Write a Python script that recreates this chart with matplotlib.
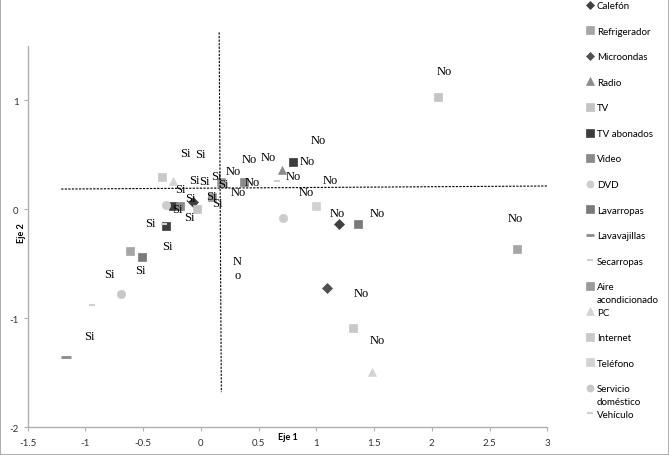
import matplotlib
matplotlib.use("Agg")
import matplotlib.pyplot as plt
from matplotlib.patches import Rectangle

# series (Si / No points of each variable)
series_names = ["Calefón", "Refrigerador", "Microondas", "Radio", "TV", "TV abonados",
                "Video", "DVD", "Lavarropas", "Lavavajillas", "Secarropas",
                "Aire acondicionado", "PC", "Internet", "Teléfono",
                "Servicio doméstico", "Vehículo"]
series_x = [[1.198, -0.065], [2.74, -0.614], [1.094], [0.706], [2.056, -0.03],
            [0.796, -0.302, -0.24], [0.374, -0.18], [0.713, -0.302], [1.362, -0.51],
            [-1.168], [-0.942, 0.66], [0.095, 0.175], [1.483, -0.24], [1.313, -0.335],
            [0.998], [-0.69], [-0.32]]
series_y = [[-0.135, 0.06], [-0.367, -0.385], [-0.725], [0.358], [1.028, 0.0],
            [0.431, -0.156, 0.03], [0.248, 0.03], [-0.083, 0.037], [-0.135, -0.44],
            [-1.358], [-0.88, 0.257], [0.11, 0.248], [-1.495, 0.257], [-1.092, 0.294],
            [0.028], [-0.78], [-0.14]]

# point labels
no_x = [2.108, 2.723, 1.181, 1.528, 0.911, 1.389, 1.528, 1.016, 0.920, 0.799,
        1.120, 0.418, 0.582, 0.279, 0.444, 0.322]
no_y = [1.266, -0.083, -0.037, -0.037, 0.156, -0.771, -1.202, 0.633, 0.440, 0.303,
        0.266, 0.459, 0.477, 0.349, 0.248, 0.156]
no_wrapped = (0.314, -0.541)
si_x = [-0.136, -0.006, -0.180, -0.057, 0.029, 0.132, 0.192, 0.088, 0.140, -0.094,
        -0.206, -0.102, -0.440, -0.293, -0.527, -0.795, -0.968]
si_y = [0.514, 0.505, 0.183, 0.266, 0.257, 0.303, 0.229, 0.119, 0.055, 0.101,
        0.0, -0.073, -0.128, -0.339, -0.560, -0.596, -1.165]

# cross lines
vline_x = [0.158, 0.177]
vline_y = [1.62, -1.68]
hline_x = [-1.21, 3.0]
hline_y = [0.183, 0.211]

x_ticks = [-1.5, -1, -0.5, 0, 0.5, 1, 1.5, 2, 2.5, 3]
y_ticks = [-2, -1, 0, 1]

styles = [
    dict(marker="D", color="#404040", ms=5),
    dict(marker="s", color="#a6a6a6", ms=6),
    dict(marker="D", color="#505050", ms=5),
    dict(marker="^", color="#8c8c8c", ms=6),
    dict(marker="s", color="#c4c4c4", ms=6),
    dict(marker="s", color="#3c3c3c", ms=6),
    dict(marker="s", color="#8a8a8a", ms=6),
    dict(marker="o", color="#cdcdcd", ms=6),
    dict(marker="s", color="#7a7a7a", ms=6),
    dict(marker="_", color="#8c8c8c", ms=7, mew=2),
    dict(marker="_", color="#d0d0d0", ms=5, mew=1.5),
    dict(marker="s", color="#9a9a9a", ms=6),
    dict(marker="^", color="#d4d4d4", ms=6),
    dict(marker="s", color="#c8c8c8", ms=6),
    dict(marker="s", color="#d2d2d2", ms=6),
    dict(marker="o", color="#c8c8c8", ms=6),
    dict(marker="_", color="#d0d0d0", ms=5, mew=1.5),
]

fig = plt.figure(figsize=(6.69, 4.56), dpi=100)
ax = fig.add_axes([0.0414, 0.0614, 0.7767, 0.8366])

handles = []
for name, xs, ys, st in zip(series_names, series_x, series_y, styles):
    h, = ax.plot(xs, ys, linestyle="none", marker=st["marker"], color=st["color"],
                 markersize=st["ms"], markeredgewidth=st.get("mew", 0.5), label=name)
    handles.append(h)

ax.plot(vline_x, vline_y, color="black", lw=0.8, ls=(0, (2, 1.2)), clip_on=False)
ax.plot(hline_x, hline_y, color="black", lw=0.8, ls=(0, (2, 1.2)), clip_on=False)

for x, y in zip(no_x, no_y):
    ax.text(x, y, "No", family="Liberation Serif", fontsize=9, ha="center", va="center")
for x, y in zip(si_x, si_y):
    ax.text(x, y, "Si", family="Liberation Serif", fontsize=9, ha="center", va="center")
ax.text(no_wrapped[0], no_wrapped[1], "N\no", family="Liberation Serif", fontsize=9,
        ha="center", va="center", linespacing=1.3)

ax.set_xlim(-1.5, 3)
ax.set_ylim(-2, 1.5)
ax.set_xticks(x_ticks)
ax.set_xticklabels([f"{t:g}" for t in x_ticks])
ax.set_yticks(y_ticks)
ax.set_yticklabels([f"{t:g}" for t in y_ticks])
for s in ["top", "right"]:
    ax.spines[s].set_visible(False)
for s in ["left", "bottom"]:
    ax.spines[s].set_color("#b0b0b0")
    ax.spines[s].set_linewidth(1)
ax.tick_params(colors="#b0b0b0", length=3, width=0.8, labelcolor="#333333",
               labelsize=7)
ax.tick_params(axis="x", pad=5)
for lab in ax.get_xticklabels() + ax.get_yticklabels():
    lab.set_family("Lato")

ax.set_xlabel("Eje 1", family="Lato", fontsize=6.5, fontweight="bold")
ax.xaxis.set_label_coords(0.501, -0.024)
ax.xaxis.label.set_va("center")
ax.set_ylabel("Eje 2", family="Lato", fontsize=6.5, fontweight="bold")
ax.yaxis.set_label_coords(-0.012, 0.511)
ax.yaxis.label.set_va("center")

# legend: wrapped labels show only their first word, second line added below
short_labels = [n.split(" ")[0] if n in ("Aire acondicionado", "Servicio doméstico") else n
                for n in series_names]
leg = fig.legend(handles=handles, labels=short_labels, loc="upper left",
                 bbox_to_anchor=(587 / 669, 0.995),
                 frameon=False, borderaxespad=0, borderpad=0, handlelength=0.7,
                 handletextpad=0.3, labelspacing=1.70, markerscale=0.85,
                 prop={"family": "Lato", "size": 7})

fig.canvas.draw()
W, H = fig.canvas.get_width_height()
for txt, full in zip(leg.get_texts(), series_names):
    if full != txt.get_text():
        bb = txt.get_window_extent()
        fig.text(bb.x0 / W, (bb.y0 + bb.y1) / 2 / H - 13 / H, full.split(" ", 1)[1],
                 family="Lato", fontsize=7, ha="left", va="center")

fig.patches.append(Rectangle((0, 0), 1, 1, transform=fig.transFigure, fill=False,
                             edgecolor="#a0a0a0", linewidth=1.2))

fig.savefig("out.png", dpi=100)
